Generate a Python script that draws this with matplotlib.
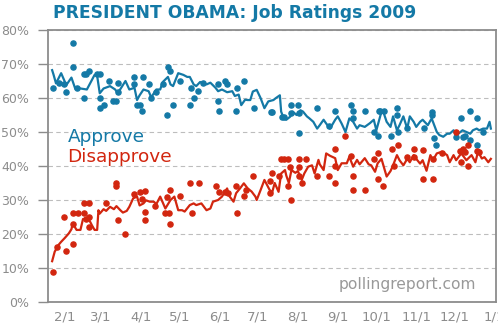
import matplotlib
matplotlib.use("Agg")
import matplotlib.pyplot as plt
import numpy as np

TEAL = "#1479a6"
RED = "#d2260f"
GRAY = "#8c8c8c"
GRID = "#bdbdbd"

# (day of year 2009, percent) - daily tracking line
approve_line = [
    (22, 68.2), (23, 67), (25, 64.3), (29, 67.3), (33, 63.8), (37, 66), (40, 62.7),
    (44, 62.8), (49, 62.5), (55, 66.8), (57, 66.5), (59, 61.4), (62, 62.8), (67, 63.5),
    (71, 62.5), (73, 61.4), (79, 65), (82, 62.5), (86, 63), (88, 59.4), (90, 60.8),
    (93, 62.5), (97, 62), (99, 60.2), (103, 62.5), (106, 62.5), (108, 64.7), (112, 66.2),
    (114, 64), (116, 63.5), (120, 67.3), (124, 66.8), (127, 66.2), (129, 66.2), (132, 64),
    (134, 63.5), (137, 64.7), (142, 64), (145, 64.5), (149, 63), (151, 62), (154, 62.5),
    (158, 61.7), (162, 62), (164, 60.6), (167, 61), (169, 57.9), (172, 59.5), (174, 59.4),
    (176, 59.4), (178, 61.9), (181, 62.4), (184, 60), (187, 57), (190, 59), (194, 59.4),
    (196, 60), (199, 60.8), (200, 56), (202, 54), (204, 53.6), (207, 54.5), (209, 56),
    (212, 55), (215, 56.4), (217, 56), (220, 54.6), (222, 54), (225, 53), (228, 51),
    (230, 52), (233, 53.6), (235, 52.5), (238, 51), (242, 53.6), (244, 54.6), (247, 52.5),
    (250, 50), (253, 54), (256, 53), (259, 51), (261, 52), (265, 51.5), (269, 52.6),
    (272, 53.6), (274, 50.5), (278, 56), (279, 56.4), (282, 53), (285, 51.5), (287, 54.6),
    (290, 50.5), (292, 52), (295, 54.6), (298, 51), (300, 54.6), (303, 53), (305, 51.5),
    (308, 53), (310, 53.6), (314, 52), (317, 54), (321, 50), (323, 49.1), (326, 48.6),
    (329, 49.5), (331, 49.5), (334, 50.5), (336, 49), (341, 50.5), (347, 49.5), (349, 50.5),
    (352, 51), (354, 50.5), (357, 51), (360, 51), (362, 53), (363, 51),
]

disapprove_line = [
    (22, 12), (24, 14.8), (27, 16.8), (29, 17.7), (32, 18.9), (35, 20.2), (37, 21.4),
    (38, 23.1), (41, 21.2), (44, 21.2), (46, 24.4), (49, 24.6), (51, 24), (53, 22.5),
    (55, 21.2), (57, 21.2), (58, 27), (59, 26), (62, 27.3), (64, 26.8), (67, 28), (70, 27.3),
    (72, 28.2), (75, 27), (77, 26.3), (80, 26.8), (82, 28), (85, 30.5), (88, 31), (90, 28.4),
    (93, 29), (95, 29.9), (98, 29.5), (101, 29.5), (103, 28.8), (106, 31), (110, 27.5),
    (114, 30), (117, 31), (120, 27), (123, 27), (125, 26.6), (129, 28.5), (132, 29),
    (134, 28.5), (138, 29), (142, 27), (145, 27.5), (147, 29.5), (151, 30), (154, 31),
    (158, 33.4), (160, 31), (163, 29.5), (165, 32), (168, 33.4), (171, 34.9), (174, 33.4),
    (177, 32.5), (180, 31), (181, 30), (184, 32.9), (187, 35.9), (191, 33), (193, 32.2),
    (195, 35), (198, 32.4), (200, 37.8), (203, 38.8), (204, 37.2), (206, 35), (208, 38.8),
    (211, 38), (213, 38.5), (216, 35.9), (218, 37.8), (221, 39.8), (224, 40.2), (226, 37.8),
    (229, 41.8), (230, 40.5), (233, 38.8), (235, 43.7), (238, 43), (242, 42.3), (244, 38.8),
    (247, 40.8), (251, 40.8), (253, 42.7), (256, 39.8), (259, 41.8), (261, 40.5), (265, 42.3),
    (268, 40.5), (270, 40.2), (273, 38.3), (275, 40.8), (278, 42.1), (282, 36.9), (285, 38.5),
    (287, 40.2), (290, 43.2), (292, 41.7), (295, 40.2), (298, 42.1), (300, 41.1), (303, 43.2),
    (305, 42.1), (308, 40.7), (310, 41.7), (313, 38.6), (316, 43.2), (318, 41.7), (321, 43.7),
    (325, 44.2), (329, 43.2), (331, 41.1), (334, 43.2), (336, 41.7), (340, 43.7), (344, 41.7),
    (348, 43.2), (351, 41.1), (353, 44.2), (356, 42.2), (358, 42.6), (361, 41.1), (363, 42.1),
]

# other national polls
approve_polls = [
    (23, 62.9), (27, 64.5), (31, 64.1), (33, 61.9), (38, 76.1), (38, 69.2), (41, 62.8),
    (47, 67), (48, 67), (51, 68), (47, 59.9), (57, 67), (59, 67), (59, 59.9), (59, 57),
    (62, 57.9), (66, 65), (69, 59.1), (72, 59.1), (73, 64.3), (73, 61.8), (86, 66.1),
    (86, 64.1), (88, 57.9), (90, 57.9), (92, 56.2), (93, 66.1), (97, 64), (99, 59.9),
    (103, 61.9), (108, 64.1), (111, 55), (112, 69.2), (114, 68), (116, 57.9), (121, 65),
    (129, 57.9), (130, 62.9), (132, 59.9), (135, 62), (139, 64.3), (151, 64.1), (151, 59.1),
    (152, 56.2), (156, 65), (158, 64), (165, 56.2), (166, 62.8), (171, 65), (179, 57),
    (192, 56), (193, 56), (201, 54.5), (202, 54.5), (208, 57.9), (208, 55.5), (213, 57.9),
    (214, 55.7), (214, 49.8), (228, 57), (237, 51.9), (242, 56.2), (254, 57.9), (256, 56.2),
    (256, 54), (265, 56.2), (272, 50.1), (275, 48.8), (276, 56.2), (277, 56.2), (280, 56.2),
    (285, 48.8), (290, 57), (290, 55), (291, 50.1), (298, 51.1), (311, 51.1), (317, 56),
    (317, 55), (319, 48.1), (320, 46.2), (336, 48.6), (340, 54), (341, 48.5), (343, 48.8),
    (347, 56.2), (347, 47.6), (352, 54), (352, 46.2), (357, 50.1),
]

disapprove_polls = [
    (23, 8.9), (26, 16.3), (31, 24.9), (33, 15), (38, 17), (38, 22.9), (38, 26.1), (42, 26.1),
    (47, 29), (51, 29), (47, 26.1), (48, 24.4), (51, 24.9), (51, 22), (64, 29), (72, 34.9),
    (72, 34.1), (73, 24.1), (79, 20), (86, 31.7), (90, 32.4), (92, 30.4), (94, 26.6),
    (94, 24.1), (94, 32.7), (102, 28.3), (110, 26.1), (111, 31), (113, 26.1), (114, 22.9),
    (114, 32.9), (121, 31.2), (129, 34.9), (131, 26.1), (136, 34.9), (149, 34.1), (152, 32.3),
    (156, 32.5), (159, 32), (165, 34.1), (166, 26.1), (171, 31.2), (173, 32.9), (178, 37.1),
    (191, 35.7), (191, 32), (193, 37.8), (198, 37.1), (200, 42), (202, 42), (205, 42),
    (205, 34.1), (207, 39.8), (208, 30), (214, 42), (219, 42), (214, 39.8), (214, 37.1),
    (216, 34.9), (228, 37.1), (237, 37.1), (242, 40), (242, 34.9), (242, 44.9), (250, 48.8),
    (254, 42.9), (256, 37.1), (256, 32.9), (265, 32.9), (272, 42), (275, 36.1), (275, 43.9),
    (279, 34.1), (286, 44.9), (288, 40), (291, 46.1), (298, 42.5), (303, 44.9), (303, 42.5),
    (310, 44.6), (310, 36.1), (318, 42.1), (318, 36.1), (325, 43.9), (336, 50.1), (339, 44.5),
    (341, 45), (343, 44), (340, 41.3), (345, 46.1), (345, 40), (352, 44.5), (354, 44),
]

month_days = [32, 60, 91, 121, 152, 182, 213, 244, 274, 305, 335, 366]
month_labels = ["2/1", "3/1", "4/1", "5/1", "6/1", "7/1", "8/1", "9/1",
                "10/1", "11/1", "12/1", "1/1"]
y_ticks = [0, 10, 20, 30, 40, 50, 60, 70, 80]

fig = plt.figure(figsize=(4.98, 3.24), dpi=100)
ax = fig.add_axes([47.5 / 498, 22 / 324, 448.5 / 498, 272 / 324])

for line, polls, color in [(approve_line, approve_polls, TEAL),
                           (disapprove_line, disapprove_polls, RED)]:
    d, v = np.array(line).T
    ax.plot(d, v, color=color, lw=1.6, zorder=3)
    d, v = np.array(polls).T
    ax.plot(d, v, "o", color=color, ms=3.7, mec=color, zorder=4)

ax.set_xlim(18.4, 367)
ax.set_ylim(0, 80)
ax.set_yticks(y_ticks)
ax.set_yticklabels([f"{t}%" for t in y_ticks])
ax.set_xticks(month_days)
ax.set_xticklabels(month_labels)
ax.tick_params(axis="y", length=7, width=1, color=GRAY, pad=6,
               labelsize=9, labelcolor=GRAY)
ax.tick_params(axis="x", length=0, pad=6, labelsize=9.5, labelcolor=GRAY)
ax.yaxis.grid(True, color=GRID, lw=0.8, linestyle=(0, (4, 3)))
ax.set_axisbelow(True)
for s in ax.spines.values():
    s.set_color(GRAY)
    s.set_linewidth(1.3)

ax.text(20 / 448.5, 1 - 106.5 / 272, "Approve", transform=ax.transAxes,
        color=TEAL, fontsize=13.3, va="center", ha="left")
ax.text(20 / 448.5, 1 - 127 / 272, "Disapprove", transform=ax.transAxes,
        color=RED, fontsize=13.3, va="center", ha="left")
ax.text(291.5 / 448.5, 1 - 254 / 272, "pollingreport.com", transform=ax.transAxes,
        color="#999999", fontsize=11.2, va="center", ha="left")

fig.text(53 / 498, 1 - 13 / 324, "PRESIDENT OBAMA: Job Ratings 2009",
         color=TEAL, fontsize=12.3, fontweight="bold", va="center", ha="left")

fig.savefig("out.png", dpi=100)
